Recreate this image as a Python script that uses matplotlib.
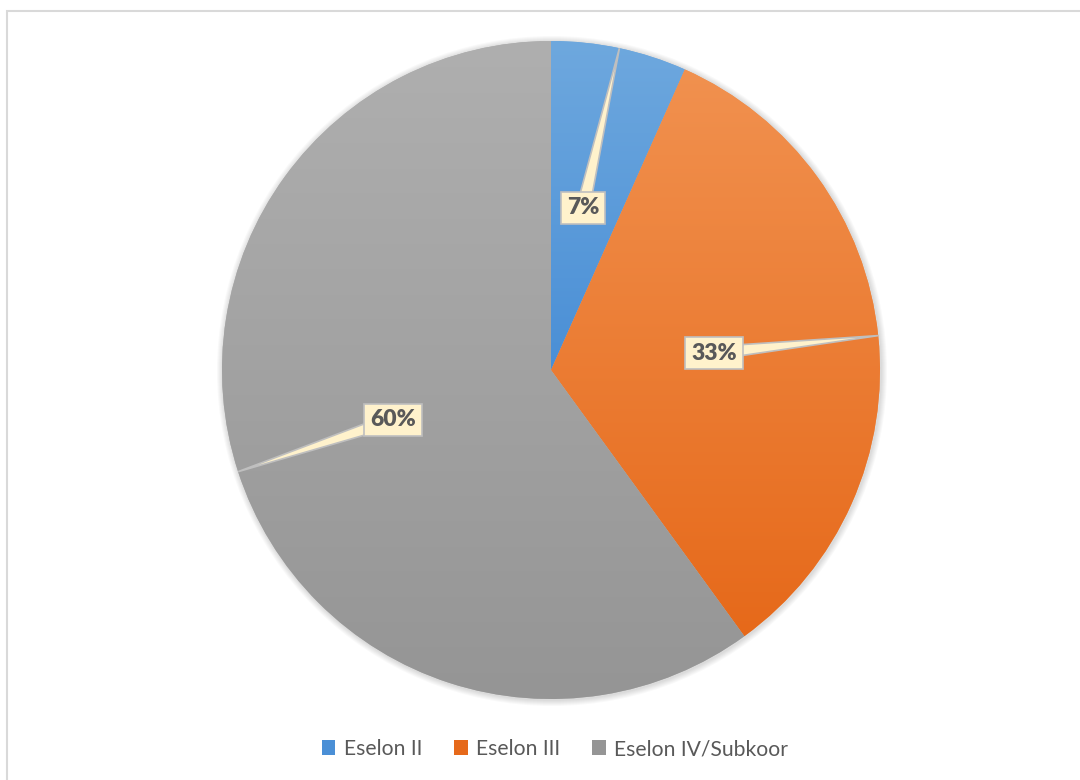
import numpy as np
import matplotlib
matplotlib.use("Agg")
import matplotlib.pyplot as plt
from matplotlib.patches import Polygon, Rectangle, Circle
from matplotlib.colors import LinearSegmentedColormap

categories = ["Eselon II", "Eselon III", "Eselon IV/Subkoor"]
values = [2, 10, 18]
labels = ["7%", "33%", "60%"]
top_colors = ["#6EA8DE", "#F1914F", "#AFAFAF"]
bottom_colors = ["#4A8FD6", "#E6691A", "#959595"]

W, H = 1080, 780
cx, cy, R = 551, H - 370, 329
label_pos = [(583, H - 208), (714, H - 353), (393, H - 420)]

plt.rcParams['font.family'] = ['Lato', 'DejaVu Sans']

fig = plt.figure(figsize=(W / 100, H / 100), dpi=100)
ax = fig.add_axes([0, 0, 1, 1])

# soft shadow
for i in range(6):
    ax.add_patch(Circle((cx + 1, cy - 1), R + 1 + i, color='k', alpha=0.025, lw=0, zorder=0))

wedges, _ = ax.pie(values, startangle=90, counterclock=False, center=(cx, cy),
                   radius=R, colors=top_colors, wedgeprops=dict(linewidth=0))

# vertical gradient inside every slice
for w, c1, c2 in zip(wedges, top_colors, bottom_colors):
    ext = w.get_path().get_extents()
    cmap = LinearSegmentedColormap.from_list("g", [c2, c1])
    grad = np.linspace(0, 1, 256).reshape(-1, 1)
    im = ax.imshow(grad, cmap=cmap, origin='lower', aspect='auto',
                   extent=[ext.x0, ext.x1, ext.y0, ext.y1], zorder=2)
    im.set_clip_path(w)

ax.set_xlim(0, W)
ax.set_ylim(0, H)
ax.set_aspect('auto')
ax.axis('off')

# callout labels
total = sum(values)
cum = 0
for v, lab, (lx, ly) in zip(values, labels, label_pos):
    mid = 90 - 360 * (cum + v / 2) / total
    cum += v
    tx = cx + R * np.cos(np.radians(mid))
    ty = cy + R * np.sin(np.radians(mid))
    d = np.array([tx - lx, ty - ly])
    d = d / np.linalg.norm(d)
    nrm = np.array([-d[1], d[0]])
    base = np.array([lx, ly]) + d * 14
    p1 = base + nrm * 6
    p2 = base - nrm * 6
    ax.add_patch(Polygon([p1, (tx, ty), p2], closed=True, facecolor='#FFF2CC',
                         edgecolor='#BFBFBF', lw=1.2, zorder=4))
    ax.text(lx, ly, lab, ha='center', va='center', fontsize=16.5, fontweight='heavy',
            color='#595959', zorder=6,
            bbox=dict(boxstyle='square,pad=0.25', facecolor='#FFF2CC',
                      edgecolor='#BFBFBF', lw=1.2))

# outer chart border
ax.add_patch(Rectangle((7, -10), W, H - 11 + 10, fill=False, edgecolor='#D9D9D9',
                       lw=1.5, zorder=1))

handles = [Rectangle((0, 0), 1, 1, facecolor=c, edgecolor='none') for c in bottom_colors]
fig.legend(handles, categories, loc='center', bbox_to_anchor=(555 / W, 1 - 749 / H),
           ncol=3, frameon=False, fontsize=15.2, labelcolor='#595959',
           handlelength=0.66, handleheight=0.66, handletextpad=0.4, columnspacing=1.5)

fig.savefig("out.png", dpi=100)
